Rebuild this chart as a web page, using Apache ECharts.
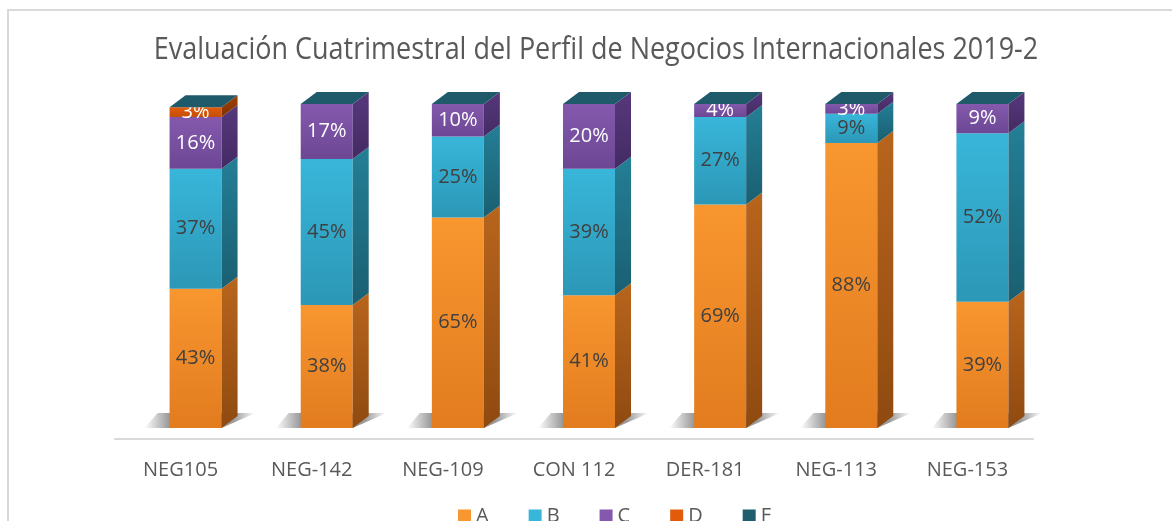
<!DOCTYPE html>
<html>
<head>
<meta charset="utf-8">
<script src="https://cdn.jsdelivr.net/npm/echarts@6/dist/echarts.min.js"></script>
<style>
  html, body { margin: 0; padding: 0; background: #fff; }
  #chart { width: 1172px; height: 521px; }
</style>
</head>
<body>
<div id="chart"></div>
<script>
// datos
var categorias = ['NEG105', 'NEG-142', 'NEG-109', 'CON 112', 'DER-181', 'NEG-113', 'NEG-153'];
var serieA = [43, 38, 65, 41, 69, 88, 39];
var serieB = [37, 45, 25, 39, 27, 9, 52];
var serieC = [16, 17, 10, 20, 4, 3, 9];
var serieD = [3, 0, 0, 0, 0, 0, 0];
var serieF = [0, 0, 0, 0, 0, 0, 0];
var nombres = ['A', 'B', 'C', 'D', 'F'];

var estilos = {
    A: {front: ['#F8962F', '#E27C1F'], side: ['#B8651D', '#8F4A10'], text: '#404040'},
    B: {front: ['#38B6DA', '#2C97B6'], side: ['#247F96', '#1A5F71'], text: '#404040'},
    C: {front: ['#8459AD', '#6C4794'], side: ['#56387C', '#442B63'], text: '#ffffff'},
    D: {front: ['#E25B0B', '#C54E06'], side: ['#A04005', '#7F3204'], text: '#ffffff'},
    F: {front: ['#1F5E6E', '#1A4F5D'], side: ['#174B58', '#123C47'], text: '#ffffff'}
};

var valores = [serieA, serieB, serieC, serieD, serieF];

function grad(c) {
    return {type: 'linear', x: 0, y: 0, x2: 0, y2: 1,
        colorStops: [{offset: 0, color: c[0]}, {offset: 1, color: c[1]}]};
}

var DX = 16, DY = -12, ANCHO = 52, DESP = -11;

function makeRender(nombre, esPrimero, esUltimo) {
    var st = estilos[nombre];
    return function (params, api) {
        var idx = api.value(0);
        var base = api.value(1);
        var val = api.value(2);
        var p0 = api.coord([idx, base]);
        var p1 = api.coord([idx, base + val]);
        var x = p0[0] + DESP;
        var yb = p0[1], yt = p1[1];
        var children = [];
        if (esPrimero) {
            // sombra en el piso
            children.push({
                type: 'polygon',
                shape: {points: [[x - 25, yb], [x - 12, yb - 15], [x + ANCHO + DX + 18, yb - 15], [x + ANCHO, yb]]},
                style: {fill: {type: 'linear', x: 0, y: 0, x2: 1, y2: 0,
                    colorStops: [{offset: 0, color: 'rgba(0,0,0,0)'}, {offset: 0.25, color: 'rgba(0,0,0,0.45)'},
                        {offset: 0.8, color: 'rgba(0,0,0,0.4)'}, {offset: 1, color: 'rgba(0,0,0,0)'}]}}
            });
        }
        if (val > 0) {
            children.push({
                type: 'rect',
                shape: {x: x, y: yt, width: ANCHO, height: yb - yt},
                style: {fill: grad(st.front)}
            });
            children.push({
                type: 'polygon',
                shape: {points: [[x + ANCHO, yb], [x + ANCHO + DX, yb + DY], [x + ANCHO + DX, yt + DY], [x + ANCHO, yt]]},
                style: {fill: grad(st.side)}
            });
            children.push({
                type: 'text',
                style: {
                    text: val + '%', x: x + ANCHO / 2, y: (yt + yb) / 2,
                    align: 'center', verticalAlign: 'middle',
                    fontSize: 20, fontFamily: 'Open Sans', fill: st.text
                },
                z2: 10
            });
        }
        if (esUltimo) {
            children.push({
                type: 'polygon',
                shape: {points: [[x, yt], [x + DX, yt + DY], [x + ANCHO + DX, yt + DY], [x + ANCHO, yt]]},
                style: {fill: '#1E5A6A'}
            });
        }
        return {type: 'group', children: children};
    };
}

var acumulado = categorias.map(function () { return 0; });
var series = nombres.map(function (n, s) {
    var datos = categorias.map(function (c, i) {
        var d = [i, acumulado[i], valores[s][i]];
        acumulado[i] += valores[s][i];
        return d;
    });
    return {
        name: n,
        type: 'custom',
        renderItem: makeRender(n, s === 0, s === nombres.length - 1),
        itemStyle: {color: estilos[n].front[0]},
        encode: {x: 0, y: [1, 2]},
        data: datos,
        z: 2 + s
    };
});

var myChart = echarts.init(document.getElementById('chart'));
var option = {
    animation: false,
    backgroundColor: '#ffffff',
    graphic: [{
        type: 'rect',
        shape: {x: 8, y: 10, width: 1300, height: 700},
        style: {fill: null, stroke: '#D9D9D9', lineWidth: 2},
        silent: true
    }, {
        // titulo, comprimido en horizontal como la fuente original
        type: 'text',
        x: 596,
        y: 50,
        scaleX: 0.87,
        style: {
            text: 'Evaluación Cuatrimestral del Perfil de Negocios Internacionales 2019-2',
            align: 'center',
            verticalAlign: 'middle',
            fontFamily: 'Open Sans',
            fontSize: 31,
            fill: '#595959'
        }
    }],
    legend: {
        data: nombres,
        left: 453,
        top: 501,
        itemWidth: 13,
        itemHeight: 13,
        itemGap: 40,
        icon: 'rect',
        textStyle: {fontFamily: 'Open Sans', fontSize: 20, color: '#595959'}
    },
    grid: {left: 115, right: 139, top: 104, bottom: 93},
    xAxis: {
        type: 'category',
        data: categorias,
        offset: 11,
        axisLine: {onZero: false, lineStyle: {color: '#D9D9D9', width: 2}},
        axisTick: {show: false},
        axisLabel: {fontFamily: 'Open Sans', fontSize: 20, color: '#595959', margin: 21}
    },
    yAxis: {
        type: 'value',
        min: 0,
        max: 100,
        show: false,
        splitLine: {show: false}
    },
    series: series
};
myChart.setOption(option);
</script>
</body>
</html>
